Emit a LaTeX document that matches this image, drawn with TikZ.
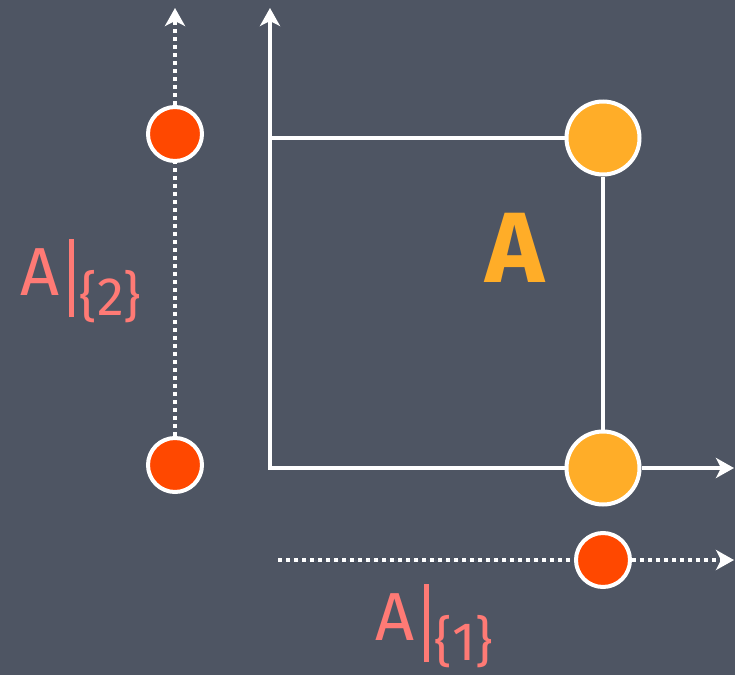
\documentclass[tikz,border=0pt]{standalone}
\usepackage{fontspec}
\setmainfont{Fira Sans}
\usetikzlibrary{arrows.meta}
\definecolor{slate}{RGB}{78,85,99}
\definecolor{redorange}{RGB}{255,72,0}
\definecolor{amber}{RGB}{255,173,40}
\definecolor{salmon}{RGB}{255,122,117}
\newcommand{\projlabel}[1]{A\kern5pt\rule[-11pt]{2.2pt}{39pt}\kern3pt\raisebox{-10pt}{\fontsize{27}{27}\selectfont\{#1\}}}

\begin{document}
\begin{tikzpicture}[
    x=0.5pt, y=-0.5pt,
    tip/.style={-{Stealth[length=9pt,width=10pt,inset=2.5pt]}},
    axis/.style={white, line width=2.2pt, tip},
    proj/.style={axis, dash pattern=on 2pt off 2pt},
    edge/.style={white, line width=2.2pt},
    pointA/.style={circle, fill=amber, draw=white, line width=2pt, minimum size=36.5pt, inner sep=0pt},
    pointP/.style={circle, fill=redorange, draw=white, line width=2pt, minimum size=27pt, inner sep=0pt},
    projtext/.style={salmon, font=\fontsize{34}{34}\selectfont, anchor=base west, inner sep=0pt}
]

% Background
\fill[slate] (0,0) rectangle (735,675);
\useasboundingbox (0,0) rectangle (735,675);

% Points
\node[pointA] (aTop) at (603,138) {};
\node[pointA] (aBot) at (603,468) {};
\node[pointP] (p2top) at (175,134) {};
\node[pointP] (p2low) at (175,465) {};
\node[pointP] (p1) at (603,560) {};

% Axes
\coordinate (o) at (270,468);
\coordinate (corner) at (270,138);
\coordinate (ytip) at (270,8);
\coordinate (xtip) at (734,468);
\draw[edge, {Stealth[length=9pt,width=10pt,inset=2.5pt]}-] (ytip) -- (o) -- (aBot);
\draw[axis] (aBot) -- (xtip);
\draw[edge] (corner) -- (aTop);
\draw[edge] (aTop) -- (aBot);

% Projections
\coordinate (p2tip) at (175,8);
\coordinate (p1start) at (278,560);
\coordinate (p1tip) at (734,560);
\draw[edge, dash pattern=on 2pt off 2pt] (p2low) -- (p2top);
\draw[proj] (p2top) -- (p2tip);
\draw[edge, dash pattern=on 2pt off 2pt] (p1start) -- (p1);
\draw[proj] (p1) -- (p1tip);

% Labels
\node[amber, font=\fontsize{50}{50}\selectfont\bfseries, anchor=base] (setA) at (515,282) {A};
\node[projtext] (lab2) at (20,295) {\projlabel{2}};
\node[projtext] (lab1) at (375,640) {\projlabel{1}};

\end{tikzpicture}
\end{document}
